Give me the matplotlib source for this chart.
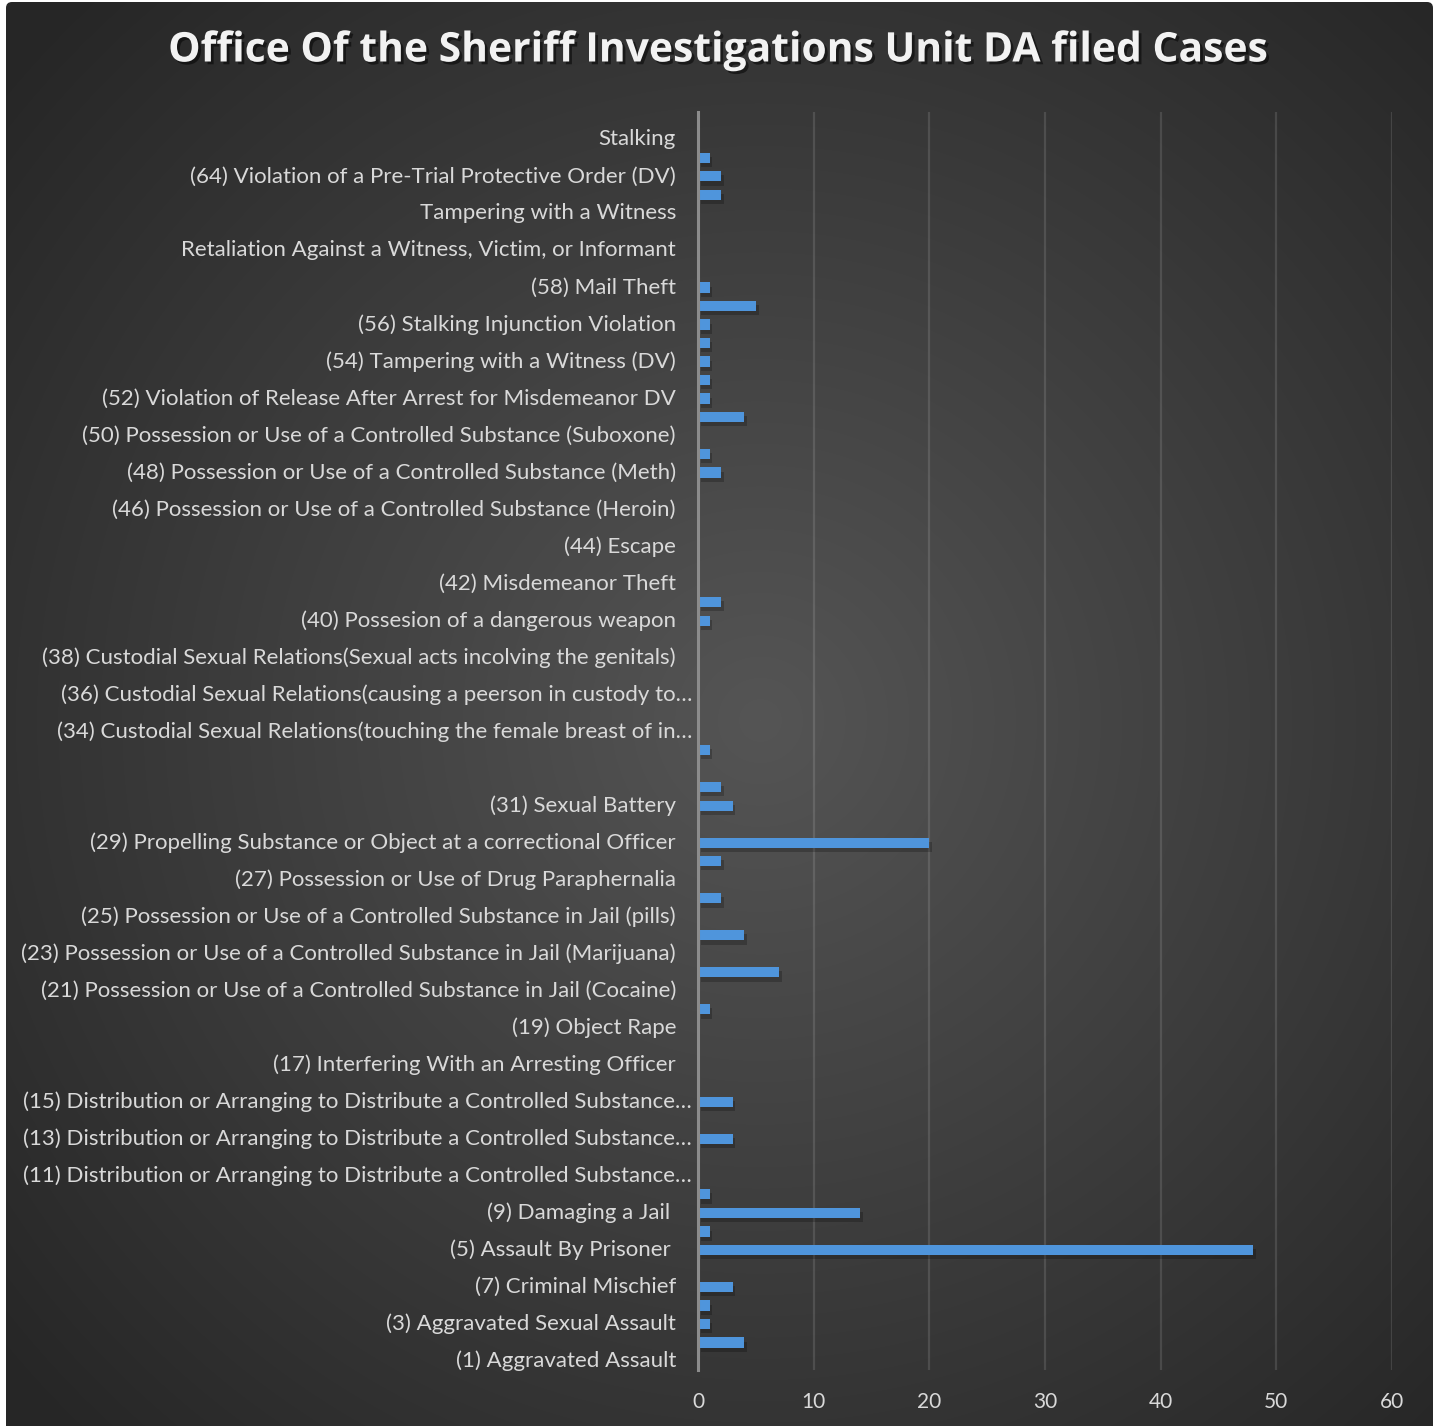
import numpy as np
import matplotlib
matplotlib.use("Agg")
import matplotlib.pyplot as plt
import matplotlib.patheffects as pe
from matplotlib.patches import FancyBboxPatch
from matplotlib.transforms import blended_transform_factory

# categories bottom -> top, empty string = label hidden on the chart
labels = [
    "(1) Aggravated Assault", "",
    "(3) Aggravated Sexual Assault", "",
    "(7) Criminal Mischief", "",
    "(5) Assault By Prisoner ", "",
    "(9) Damaging a Jail ", "",
    "(11) Distribution or Arranging to Distribute a Controlled Substance\u2026", "",
    "(13) Distribution or Arranging to Distribute a Controlled Substance\u2026", "",
    "(15) Distribution or Arranging to Distribute a Controlled Substance\u2026", "",
    "(17) Interfering With an Arresting Officer", "",
    "(19) Object Rape", "",
    "(21) Possession or Use of a Controlled Substance in Jail (Cocaine)", "",
    "(23) Possession or Use of a Controlled Substance in Jail (Marijuana)", "",
    "(25) Possession or Use of a Controlled Substance in Jail (pills)", "",
    "(27) Possession or Use of Drug Paraphernalia", "",
    "(29) Propelling Substance or Object at a correctional Officer", "",
    "(31) Sexual Battery", "",
    "", "",
    "(34) Custodial Sexual Relations(touching the female breast of in\u2026", "",
    "(36) Custodial Sexual Relations(causing a peerson in custody to\u2026", "",
    "(38) Custodial Sexual Relations(Sexual acts incolving the genitals)", "",
    "(40) Possesion of a dangerous weapon", "",
    "(42) Misdemeanor Theft", "",
    "(44) Escape", "",
    "(46) Possession or Use of a Controlled Substance (Heroin)", "",
    "(48) Possession or Use of a Controlled Substance (Meth)", "",
    "(50) Possession or Use of a Controlled Substance (Suboxone)", "",
    "(52) Violation of Release After Arrest for Misdemeanor DV", "",
    "(54) Tampering with a Witness (DV)", "",
    "(56) Stalking Injunction Violation", "",
    "(58) Mail Theft", "",
    "Retaliation Against a Witness, Victim, or Informant", "",
    "Tampering with a Witness", "",
    "(64) Violation of a Pre-Trial Protective Order (DV)", "",
    "Stalking", "",
]

cases = [
    0, 4, 1, 1, 3, 0, 48, 1, 14, 1,
    0, 0, 3, 0, 3, 0, 0, 0, 0, 1,
    0, 7, 0, 4, 0, 2, 0, 2, 20, 0,
    3, 2, 0, 1, 0, 0, 0, 0, 0, 0,
    1, 2, 0, 0, 0, 0, 0, 0, 2, 1,
    0, 4, 1, 1, 1, 1, 1, 5, 1, 0,
    0, 0, 0, 2, 2, 1, 0, 0,
]

x_ticks = [0, 10, 20, 30, 40, 50, 60]

W, H = 1439, 1426
fig = plt.figure(figsize=(W / 100, H / 100), dpi=100, facecolor="white")

# radial gradient background clipped to the chart frame
bg = fig.add_axes([0, 0, 1, 1], zorder=-10)
bg.set_xlim(0, W)
bg.set_ylim(H, 0)
bg.axis("off")
yy, xx = np.mgrid[0:H, 0:W]
d = np.hypot(xx - 760, yy - 720)
g = (85 - 47 * np.clip(d / 1000, 0, 1)) / 255.0
img = np.dstack([g, g, g])
im = bg.imshow(img, extent=(0, W, H, 0), interpolation="bilinear")
frame = FancyBboxPatch((6, 2), 1427, 1430, boxstyle="round,pad=0,rounding_size=6",
                       transform=bg.transData, facecolor="none", edgecolor="none")
bg.add_patch(frame)
im.set_clip_path(frame)

ax = fig.add_axes([698 / W, 1 - 1370.25 / H, (1392 - 698) / W, (1370.25 - 111.6) / H])
ax.set_facecolor("none")

y = np.arange(len(labels))
bars = ax.barh(y, cases, height=0.55, color="#4f95dc", zorder=3)
for b in bars:
    b.set_path_effects([pe.SimplePatchShadow(offset=(2, -3), shadow_rgbFace="black", alpha=0.22),
                        pe.Normal()])

ax.set_xlim(0, 60)
ax.set_ylim(-0.5, len(labels) - 0.5)
ax.set_xticks(x_ticks)
ax.set_yticks([])
ax.xaxis.grid(True, color="white", alpha=0.12, linewidth=1.6, zorder=0)
for s in ["top", "right", "bottom"]:
    ax.spines[s].set_visible(False)
ax.spines["left"].set_color("#8c8c8c")
ax.spines["left"].set_linewidth(2.2)
ax.spines["left"].set_zorder(4)
ax.tick_params(axis="x", length=0, pad=16, labelsize=15, labelcolor="#d9d9d9")
for t in ax.get_xticklabels():
    t.set_family("Lato")

# category labels (Excel-style, truncated ones overhang to the right)
tr = blended_transform_factory(fig.transFigure, ax.transData)
for i, lab in enumerate(labels):
    if not lab:
        continue
    xr = 692 if lab.endswith("\u2026") else 676
    ax.text(xr / W, i, lab, transform=tr, ha="right", va="center",
            fontsize=16, color="#d9d9d9", family="Lato")

fig.text(0.4997, 1 - 51 / H, "Office Of the Sheriff Investigations Unit DA filed Cases",
         ha="center", va="center", fontsize=29.4, fontweight="bold", color="#f2f2f2",
         family="Open Sans",
         path_effects=[pe.SimplePatchShadow(offset=(2, -2), shadow_rgbFace="black", alpha=0.5),
                       pe.Normal()])

fig.savefig("out.png", dpi=100, facecolor="white")
